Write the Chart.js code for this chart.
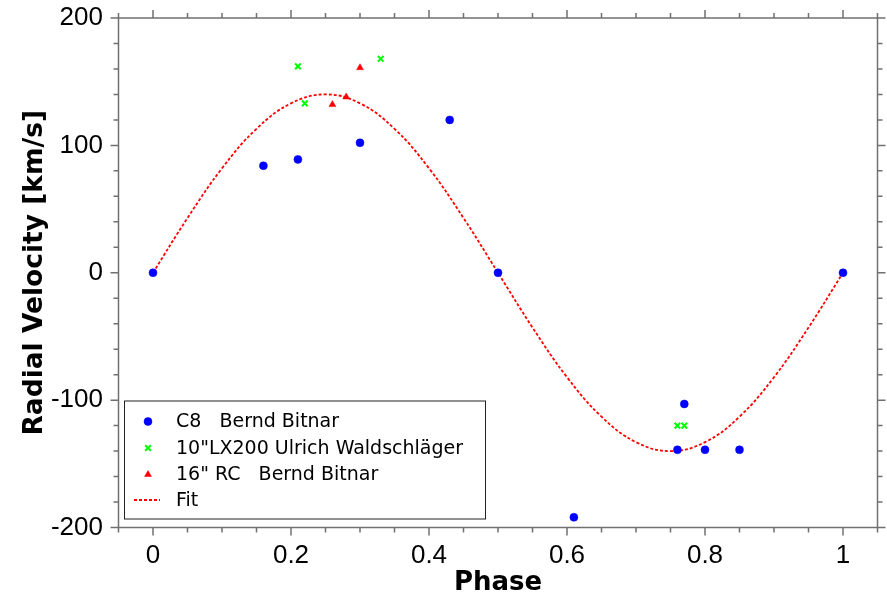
<!DOCTYPE html>
<html>
<head>
<meta charset="utf-8">
<script src="https://cdn.jsdelivr.net/npm/chart.js@4.4.1/dist/chart.umd.min.js"></script>
<style>
    html, body { margin: 0; padding: 0; background: #fff; }
    #wrap { width: 887px; height: 595px; }
</style>
</head>
<body>
<div id="wrap"><canvas id="rv-chart" width="887" height="595"></canvas></div>
<script>
// C8  Bernd Bitnar
const c8Phase = [0, 0.16, 0.21, 0.30, 0.43, 0.50, 0.61, 0.76, 0.77, 0.80, 0.85, 1.00];
const c8Rv    = [0, 84, 89, 102, 120, 0, -192, -139, -103, -139, -139, 0];

// 10"LX200 Ulrich Waldschläger
const lxPhase = [0.21, 0.22, 0.33, 0.76, 0.77];
const lxRv    = [162, 133, 168, -120, -120];

// 16" RC  Bernd Bitnar
const rcPhase = [0.26, 0.28, 0.30];
const rcRv    = [132, 138, 161];

// fit curve
const fitPhase = [0, 0.05, 0.10, 0.15, 0.20, 0.25, 0.30, 0.35, 0.40, 0.45, 0.50,
                  0.55, 0.60, 0.65, 0.70, 0.75, 0.80, 0.85, 0.90, 0.95, 1.00];
const fitRv    = [0, 43, 82, 113, 133, 140, 133, 113, 82, 43, 0,
                  -43, -82, -113, -133, -140, -133, -113, -82, -43, 0];

const xTicks = [0, 0.2, 0.4, 0.6, 0.8, 1];
const yTicks = [-200, -100, 0, 100, 200];

const legendLabels = ['C8   Bernd Bitnar', '10"LX200 Ulrich Waldschläger', '16" RC   Bernd Bitnar', 'Fit'];

function toPoints(xs, ys) {
    return xs.map((x, i) => ({ x: x, y: ys[i] }));
}

// box with outward tick marks on all four sides
const framePlugin = {
    id: 'frame',
    beforeDatasetsDraw(chart) {
        const { ctx, chartArea: a, scales } = chart;
        ctx.save();
        ctx.strokeStyle = '#707070';
        ctx.lineWidth = 1.5;
        ctx.strokeRect(a.left, a.top, a.right - a.left, a.bottom - a.top);

        ctx.beginPath();
        for (let i = -1; i <= 21; i++) {
            const px = scales.x.getPixelForValue(i * 0.05);
            const len = (i % 4 === 0) ? 8 : 5;
            ctx.moveTo(px, a.bottom); ctx.lineTo(px, a.bottom + len);
            ctx.moveTo(px, a.top); ctx.lineTo(px, a.top - len);
        }
        for (let i = -10; i <= 10; i++) {
            const py = scales.y.getPixelForValue(i * 20);
            const len = (i % 5 === 0) ? 8 : 5;
            ctx.moveTo(a.left, py); ctx.lineTo(a.left - len, py);
            ctx.moveTo(a.right, py); ctx.lineTo(a.right + len, py);
        }
        ctx.stroke();
        ctx.restore();
    }
};

// legend box in the lower left corner
const boxLegend = {
    id: 'boxLegend',
    afterDraw(chart) {
        const ctx = chart.ctx;
        const box = { x: 124.5, y: 401, w: 361, h: 118 };
        ctx.save();
        ctx.fillStyle = '#fff';
        ctx.fillRect(box.x, box.y, box.w, box.h);
        ctx.strokeStyle = '#222';
        ctx.lineWidth = 1;
        ctx.strokeRect(box.x, box.y, box.w, box.h);

        ctx.font = '19px "DejaVu Sans"';
        ctx.textBaseline = 'middle';
        const rowY = [421.5, 448, 474.5, 500];
        chart.data.datasets.forEach((ds, i) => {
            const y = rowY[i];
            ctx.save();
            if (ds.type === 'line') {
                ctx.strokeStyle = ds.borderColor;
                ctx.lineWidth = ds.borderWidth;
                ctx.setLineDash(ds.borderDash);
                ctx.beginPath();
                ctx.moveTo(134, y); ctx.lineTo(160, y);
                ctx.stroke();
            } else {
                ctx.fillStyle = ds.backgroundColor;
                ctx.strokeStyle = ds.borderColor;
                ctx.lineWidth = ds.borderWidth;
                Chart.helpers.drawPoint(ctx, {
                    pointStyle: ds.pointStyle,
                    radius: ds.pointRadius,
                    borderWidth: ds.borderWidth,
                    rotation: 0
                }, 148, y);
            }
            ctx.restore();
            ctx.fillStyle = '#000';
            ctx.fillText(legendLabels[i], 176, y + 1);
        });
        ctx.restore();
    }
};

const ctx = document.getElementById('rv-chart').getContext('2d');
new Chart(ctx, {
    type: 'scatter',
    data: {
        datasets: [
            {
                label: legendLabels[0],
                data: toPoints(c8Phase, c8Rv),
                pointStyle: 'circle',
                pointRadius: 4,
                backgroundColor: '#0000ff',
                borderColor: '#0000ff',
                borderWidth: 0.5
            },
            {
                label: legendLabels[1],
                data: toPoints(lxPhase, lxRv),
                pointStyle: 'crossRot',
                pointRadius: 4,
                backgroundColor: '#00ff00',
                borderColor: '#00ff00',
                borderWidth: 2
            },
            {
                label: legendLabels[2],
                data: toPoints(rcPhase, rcRv),
                pointStyle: 'triangle',
                pointRadius: 4,
                backgroundColor: '#ff0000',
                borderColor: '#ff0000',
                borderWidth: 0.5
            },
            {
                type: 'line',
                label: legendLabels[3],
                data: toPoints(fitPhase, fitRv),
                borderColor: '#ff0000',
                borderWidth: 1.8,
                borderDash: [3, 2],
                pointRadius: 0,
                tension: 0.4,
                fill: false,
                order: 5
            }
        ]
    },
    options: {
        responsive: false,
        animation: false,
        devicePixelRatio: 1,
        layout: { padding: { top: 18, right: 9.5, left: 0, bottom: 0 } },
        plugins: {
            legend: { display: false },
            tooltip: { enabled: false }
        },
        scales: {
            x: {
                type: 'linear',
                min: -0.05,
                max: 1.05,
                afterBuildTicks: s => { s.ticks = xTicks.map(v => ({ value: v })); },
                afterFit: s => {
                    s.height = 67.5;
                    s.paddingLeft = 0; s.paddingRight = 0;
                },
                grid: { display: false, drawTicks: false },
                border: { display: false },
                ticks: {
                    font: { family: 'Liberation Sans', size: 26 },
                    color: '#000',
                    padding: 13,
                    maxRotation: 0,
                    autoSkip: false,
                    callback: v => String(v)
                },
                title: {
                    display: true,
                    text: 'Phase',
                    color: '#000',
                    font: { family: 'DejaVu Sans', size: 26, weight: 'bold', lineHeight: 1 },
                    padding: { top: 0, bottom: -1 }
                }
            },
            y: {
                min: -200,
                max: 200,
                afterBuildTicks: s => { s.ticks = yTicks.map(v => ({ value: v })); },
                afterFit: s => {
                    s.width = 118.5;
                    s.paddingTop = 0; s.paddingBottom = 0;
                },
                grid: { display: false, drawTicks: false },
                border: { display: false },
                ticks: {
                    font: { family: 'Liberation Sans', size: 26 },
                    color: '#000',
                    padding: 15.5,
                    autoSkip: false,
                    callback: v => String(v)
                },
                title: {
                    display: true,
                    text: 'Radial Velocity [km/s]',
                    color: '#000',
                    font: { family: 'DejaVu Sans', size: 26.5, weight: 'bold', lineHeight: 1 },
                    padding: { top: 22, bottom: 0 }
                }
            }
        }
    },
    plugins: [framePlugin, boxLegend]
});
</script>
</body>
</html>
